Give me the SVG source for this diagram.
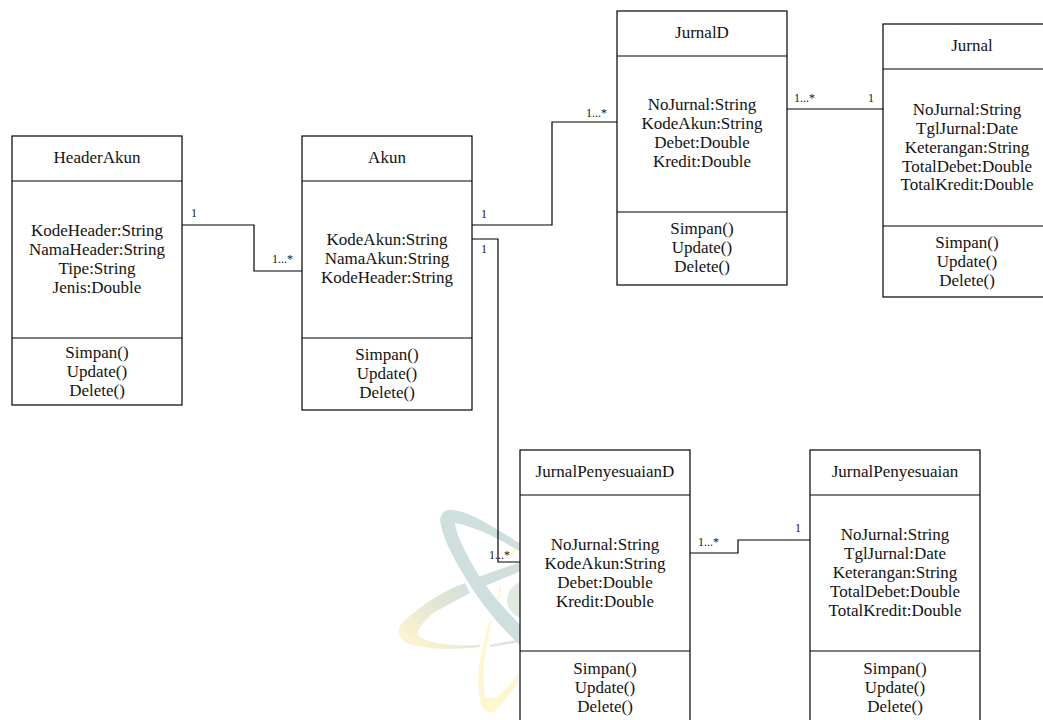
<svg xmlns="http://www.w3.org/2000/svg" width="1043" height="720" viewBox="0 0 1043 720">
<style>
.b{fill:#fff;stroke:#000;stroke-width:1.2}
.d{stroke:#000;stroke-width:1.2;fill:none}
.c{fill:none;stroke:#000;stroke-width:1.2}
text{font-family:"Liberation Serif","Times New Roman",serif;fill:#111;opacity:.99}
.t{font-size:17px;text-anchor:middle}
.m{font-size:12px}
</style>
<defs>
<linearGradient id="w1" gradientUnits="userSpaceOnUse" x1="480" y1="580" x2="420" y2="650"><stop offset="0" stop-color="#d0dfdc"/><stop offset="0.45" stop-color="#dde5d5"/><stop offset="1" stop-color="#fdf3d0"/></linearGradient>
</defs>
<g id="watermark" fill="none">
<path d="M518 683C510 695 500 708 492 713C485 712 480 706 480 700C476 680 478 660 490 620L492 620C484 650 482 680 485 697C490 699 497 697 497 697C505 690 512 682 518 673Z" fill="#fff6cf"/>
<path d="M497 600L500 585L502 585L499 600ZM521 542L512 556L509 556L519 541Z" fill="#fff6cf"/>
<circle cx="525" cy="600" r="18" fill="#e0eadf"/>
<path d="M478 577L521 562L521 571L485 586ZM465 583C445 590 425 602 403 622C397 628 397 636 405 642C420 650 455 650 480 647L480 645C460 646 435 646 420 637C415 632 420 625 433 613L470 593ZM490 645L521 639L521 642L490 647Z" fill="url(#w1)"/>
<path d="M521 646C498 625 478 600 462 572C450 552 442 535 440 520C441 512 446 509 453 510C470 512 490 525 521 544L521 552C500 540 480 528 455 523C456 535 468 558 480 577C492 596 508 612 521 626Z" fill="#cfdfde"/>
</g>
<g id="connectors">
<path class="c" d="M182 225H254V271H302"/>
<path class="c" d="M472 225H552V122H617"/>
<path class="c" d="M472 239H498V562H520"/>
<path class="c" d="M787 109H883"/>
<path class="c" d="M690 553H738V540H810"/>
</g>
<g id="HeaderAkun">
<rect class="b" x="12" y="136" width="170" height="269"/><path class="d" d="M12 181H182M12 338H182"/>
<text class="t" x="97" y="163">HeaderAkun</text>
<text class="t" x="97" y="236">KodeHeader:String</text><text class="t" x="97" y="255">NamaHeader:String</text><text class="t" x="97" y="274">Tipe:String</text><text class="t" x="97" y="293">Jenis:Double</text>
<text class="t" x="97" y="358">Simpan()</text><text class="t" x="97" y="377">Update()</text><text class="t" x="97" y="396">Delete()</text>
</g>
<g id="Akun">
<rect class="b" x="302" y="136" width="170" height="274"/><path class="d" d="M302 181H472M302 338H472"/>
<text class="t" x="387" y="163">Akun</text>
<text class="t" x="387" y="245">KodeAkun:String</text><text class="t" x="387" y="264">NamaAkun:String</text><text class="t" x="387" y="283">KodeHeader:String</text>
<text class="t" x="387" y="360">Simpan()</text><text class="t" x="387" y="379">Update()</text><text class="t" x="387" y="398">Delete()</text>
</g>
<g id="JurnalD">
<rect class="b" x="617" y="11" width="170" height="274"/><path class="d" d="M617 56H787M617 212H787"/>
<text class="t" x="702" y="38">JurnalD</text>
<text class="t" x="702" y="110">NoJurnal:String</text><text class="t" x="702" y="129">KodeAkun:String</text><text class="t" x="702" y="148">Debet:Double</text><text class="t" x="702" y="167">Kredit:Double</text>
<text class="t" x="702" y="234">Simpan()</text><text class="t" x="702" y="253">Update()</text><text class="t" x="702" y="272">Delete()</text>
</g>
<g id="Jurnal">
<rect class="b" x="883" y="24" width="170" height="273"/><path class="d" d="M883 69H1053M883 226H1053"/>
<text class="t" x="972" y="51">Jurnal</text>
<text class="t" x="967" y="115">NoJurnal:String</text><text class="t" x="967" y="134">TglJurnal:Date</text><text class="t" x="967" y="153">Keterangan:String</text><text class="t" x="967" y="172">TotalDebet:Double</text><text class="t" x="967" y="190">TotalKredit:Double</text>
<text class="t" x="967" y="248">Simpan()</text><text class="t" x="967" y="267">Update()</text><text class="t" x="967" y="286">Delete()</text>
</g>
<g id="JurnalPenyesuaianD">
<rect class="b" x="520" y="450" width="170" height="280"/><path class="d" d="M520 495H690M520 651H690"/>
<text class="t" x="605" y="477">JurnalPenyesuaianD</text>
<text class="t" x="605" y="550">NoJurnal:String</text><text class="t" x="605" y="569">KodeAkun:String</text><text class="t" x="605" y="588">Debet:Double</text><text class="t" x="605" y="607">Kredit:Double</text>
<text class="t" x="605" y="674">Simpan()</text><text class="t" x="605" y="693">Update()</text><text class="t" x="605" y="712">Delete()</text>
</g>
<g id="JurnalPenyesuaian">
<rect class="b" x="810" y="450" width="170" height="280"/><path class="d" d="M810 495H980M810 651H980"/>
<text class="t" x="895" y="477">JurnalPenyesuaian</text>
<text class="t" x="895" y="540">NoJurnal:String</text><text class="t" x="895" y="559">TglJurnal:Date</text><text class="t" x="895" y="578">Keterangan:String</text><text class="t" x="895" y="597">TotalDebet:Double</text><text class="t" x="895" y="616">TotalKredit:Double</text>
<text class="t" x="895" y="674">Simpan()</text><text class="t" x="895" y="693">Update()</text><text class="t" x="895" y="712">Delete()</text>
</g>
<g id="labels">
<text class="m" x="191" y="217">1</text><text class="m" x="272" y="263">1...*</text>
<text class="m" x="481" y="218">1</text><text class="m" x="481" y="253">1</text>
<text class="m" x="586" y="117">1...*</text><text class="m" x="794" y="102">1...*</text>
<text class="m" x="868" y="102">1</text><text class="m" x="489" y="559">1...*</text>
<text class="m" x="698" y="546">1...*</text><text class="m" x="795" y="532">1</text>
</g>
</svg>
